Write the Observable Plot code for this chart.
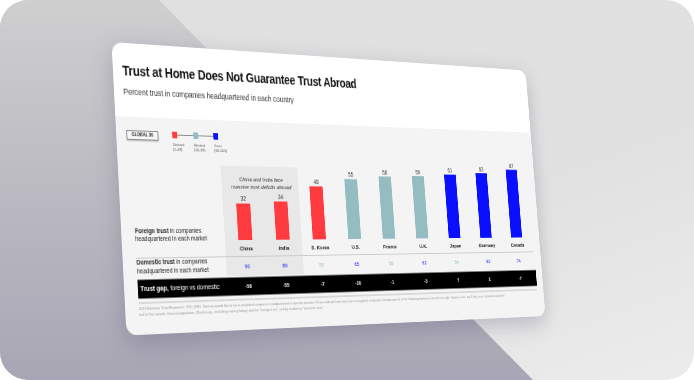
<!DOCTYPE html>
<html>
<head>
<meta charset="utf-8">
<script src="https://cdn.jsdelivr.net/npm/d3@7"></script>
<script src="https://cdn.jsdelivr.net/npm/@observablehq/plot@0.6"></script>
<style>
  html, body { margin: 0; padding: 0; background: #ffffff; }
  body { width: 694px; height: 380px; position: relative; overflow: hidden; font-family: "Liberation Sans", Arial, sans-serif; }
  #frame { position: absolute; left: 0; top: 0; width: 694px; height: 380px; border-radius: 28px; overflow: hidden;
           background: linear-gradient(160deg, #e0e0e0 0%, #e1e1e1 60%, #ececec 100%); }
  #shade { position: absolute; left: 0; top: 0; width: 694px; height: 380px;
           clip-path: polygon(0 0, 159px 0, 533px 380px, 0 380px);
           background: linear-gradient(180deg, #cfcfd0 0%, #bdbcc3 45%, #a8a6b4 100%); }
  #card { position: absolute; left: 0; top: 0; width: 580px; height: 300px; border-radius: 12px; transform-origin: 0 0;
          background: linear-gradient(180deg, #ffffff 0, #ffffff 77px, #f4f4f4 77px, #f4f4f4 100%);
          box-shadow: 0 8px 26px rgba(70, 65, 100, 0.28); overflow: hidden; }
  #card .abs { position: absolute; white-space: nowrap; }
  #title { left: 11px; top: 21.5px; font-size: 13.8px; line-height: 16px; font-weight: 700; letter-spacing: -0.3px; color: #111; }
  #subtitle { left: 11px; top: 46px; font-size: 8.6px; line-height: 10px; color: #333; letter-spacing: -0.1px; }
  #global { left: 12px; top: 91px; width: 36px; height: 8px; border: 1px solid #8a8a8a; background: #f7f7f7;
            box-shadow: 0 1px 1.5px rgba(0,0,0,0.25); font-size: 4.6px; line-height: 8px; font-weight: 700; text-align: center; color: #222; }
  .rowlab { font-size: 6.5px; line-height: 8.5px; color: #222; }
  #gaplab { font-size: 7px; line-height: 9px; color: #fff; }
  #foot { left: 16px; top: 271px; width: 500px; white-space: normal !important; font-size: 3.9px; line-height: 6.3px; color: #9a9a9a; }
  #legend .sq { position: absolute; width: 6.5px; height: 6.5px; }
  #legend .lab { position: absolute; font-size: 4.3px; line-height: 5.3px; color: #555; white-space: nowrap; }
  #plot { position: absolute; left: 0; top: 110px; }
</style>
</head>
<body>
<div id="frame"><div id="shade"></div></div>
<div id="card">
  <div class="abs" id="title">Trust at Home Does Not Guarantee Trust Abroad</div>
  <div class="abs" id="subtitle">Percent trust in companies headquartered in each country</div>
  <div class="abs" id="global">GLOBAL 36</div>
  <div class="abs" id="legend" style="left:0;top:0;width:580px;height:120px;"></div>
  <div id="plot"></div>
  <div class="abs rowlab" style="left:16px;top:190.5px;"><b>Foreign trust</b> in companies<br>headquartered in each market</div>
  <div class="abs rowlab" style="left:16px;top:223px;"><b>Domestic trust</b> in companies<br>headquartered in each market</div>
  <div class="abs" id="gaplab" style="left:19px;top:249px;"><b>Trust gap,</b> foreign vs domestic</div>
  <div class="abs" id="foot">2023 Edelman Trust Barometer. TRU_INS1. Now we would like to focus on global companies headquartered in specific markets. Please indicate how much you trust global companies headquartered in the following markets to do what is right. 9-point scale; top 4 box, trust. Question asked of half of the sample. General population, 28-mkt avg., excluding country being rated for "foreign trust", and by market for "domestic trust".</div>
</div>
<script>
// ---- data ----
const countries = ["China", "India", "S. Korea", "U.S.", "France", "U.K.", "Japan", "Germany", "Canada"];
const foreignTrust = [32, 34, 48, 55, 58, 59, 61, 63, 67];
const domesticTrust = [90, 89, 55, 65, 59, 62, 54, 62, 74];
const trustGap = [-58, -55, -7, -10, -1, -3, 7, 1, -7];
const highlighted = ["China", "India"];
const annotation = "China and India face\nmassive trust deficits abroad";
const legendNames = ["Distrust", "Neutral", "Trust"];
const legendRanges = ["(1-49)", "(50-59)", "(60-100)"];
const thresholds = [50, 60];
const palette = ["#ff3b40", "#94bcc1", "#0a10ff"];

const rows = countries.map((c, i) => ({country: c, foreign: foreignTrust[i], domestic: domesticTrust[i], gap: trustGap[i]}));

// ---- legend ----
const legend = document.getElementById("legend");
const legX = [70, 96, 121];
const line = document.createElement("div");
line.style.cssText = `position:absolute;left:${legX[0]}px;top:93.8px;width:${legX[2] - legX[0]}px;height:0.8px;background:#8a8a8a;`;
legend.appendChild(line);
legendNames.forEach((n, i) => {
  const sq = document.createElement("div");
  sq.className = "sq";
  sq.style.cssText = `left:${legX[i] - 3.25}px;top:91px;background:${palette[i]};`;
  legend.appendChild(sq);
  const lab = document.createElement("div");
  lab.className = "lab";
  lab.style.cssText = `left:${legX[i] - 3}px;top:102px;`;
  lab.innerHTML = n + "<br>" + legendRanges[i];
  legend.appendChild(lab);
});

// ---- chart ----
const ext = -108;
const chart = Plot.plot({
  width: 580,
  height: 168,
  marginLeft: 124,
  marginRight: 11,
  marginTop: 3.5,
  marginBottom: 73,
  style: {background: "transparent", overflow: "visible", fontFamily: "'Liberation Sans', Arial, sans-serif"},
  x: {domain: countries, paddingInner: 0.64, paddingOuter: 0.32, axis: null},
  y: {domain: [0, 75], axis: null},
  color: {type: "threshold", domain: thresholds, range: palette},
  marks: [
    Plot.barY(highlighted, {x: d => d, y1: -31, y2: 64.8, fill: "#e8e8e8", insetLeft: -17, insetRight: -16}),
    Plot.ruleY([0], {dy: 17, stroke: "#c9c9c9", strokeWidth: 1, insetLeft: ext, insetRight: -1}),
    Plot.barY(rows, {x: "country", y: "foreign", fill: "foreign"}),
    Plot.text(rows, {x: "country", y: "foreign", text: "foreign", dy: -5, fontSize: 6.3, fill: "#333"}),
    Plot.axisX({anchor: "bottom", tickSize: 0, tickPadding: 6, fontSize: 6, fontWeight: "bold", fill: "#111", label: null}),
    Plot.text(rows, {x: "country", y: 0, dy: 28, text: "domestic", fill: "domestic", fontSize: 5.8}),
    Plot.ruleY([0], {dy: 48.5, stroke: "#000", strokeWidth: 19, insetLeft: ext, insetRight: -1}),
    Plot.text(rows, {x: "country", y: 0, dy: 48.5, text: d => String(d.gap), fill: "#fff", fontSize: 5.8, fontWeight: "bold"}),
    Plot.ruleY([0], {dy: 62.5, stroke: "#cfcfcf", strokeWidth: 1.5, insetLeft: ext, insetRight: -1}),
    Plot.text([annotation], {x: () => highlighted[0], y: () => 57, dx: 24.7, text: d => d, lineAnchor: "top", lineHeight: 1.35, fontSize: 6.2, fontStyle: "italic", fill: "#333"})
  ]
});
document.getElementById("plot").appendChild(chart);

// ---- perspective placement of the card ----
const W = 580, H = 300;
const quad = [[111.5, 42], [525.5, 70.5], [545.5, 316], [126.5, 335.5]];
function homography(q) {
  const [x0, y0] = q[0], [x1, y1] = q[1], [x2, y2] = q[2], [x3, y3] = q[3];
  const dx1 = x1 - x2, dx2 = x3 - x2, sx = x0 - x1 + x2 - x3;
  const dy1 = y1 - y2, dy2 = y3 - y2, sy = y0 - y1 + y2 - y3;
  const den = dx1 * dy2 - dx2 * dy1;
  const g = (sx * dy2 - dx2 * sy) / den;
  const h = (dx1 * sy - sx * dy1) / den;
  const a = x1 - x0 + g * x1, b = x3 - x0 + h * x3, c = x0;
  const d = y1 - y0 + g * y1, e = y3 - y0 + h * y3, f = y0;
  return `matrix3d(${a / W},${d / W},0,${g / W},${b / H},${e / H},0,${h / H},0,0,1,0,${c},${f},0,1)`;
}
document.getElementById("card").style.transform = homography(quad);
</script>
</body>
</html>
